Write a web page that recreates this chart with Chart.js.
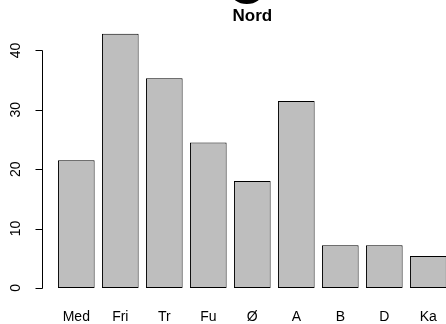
<!DOCTYPE html>
<html lang="no">
<head>
<meta charset="UTF-8">
<title>Nord</title>
<style>
  html, body { margin: 0; padding: 0; background: #fff; overflow: hidden; }
  canvas { display: block; }
</style>
</head>
<body>
<canvas id="chart" width="506" height="324"></canvas>

<script src="https://cdn.jsdelivr.net/npm/chart.js"></script>
<script>
    // data
    const categories = ['Med', 'Fri', 'Tr', 'Fu', 'Ø', 'A', 'B', 'D', 'Ka'];
    const values = [21.5, 42.8, 35.3, 24.5, 18.0, 31.5, 7.2, 7.2, 5.4];
    const yTicks = [0, 10, 20, 30, 40];
    const chartTitle = 'Nord';

    const axisFont = '14px "Liberation Sans", Arial, sans-serif';

    // R-style axis: line only from first to last tick, rotated labels
    const rAxis = {
        id: 'rAxis',
        afterDraw(chart) {
            const ctx = chart.ctx;
            const y = chart.scales.y;
            const area = chart.chartArea;
            const slot = area.width / categories.length;
            const axisX = Math.round(area.left - slot * 0.27) + 0.5;
            const top = y.getPixelForValue(yTicks[yTicks.length - 1]);
            const bottom = y.getPixelForValue(yTicks[0]);

            ctx.save();
            ctx.strokeStyle = '#000';
            ctx.lineWidth = 1;
            ctx.beginPath();
            ctx.moveTo(axisX, Math.round(top) + 0.5);
            ctx.lineTo(axisX, Math.round(bottom) + 0.5);
            yTicks.forEach(v => {
                const py = Math.round(y.getPixelForValue(v)) + 0.5;
                ctx.moveTo(axisX, py);
                ctx.lineTo(axisX - 7, py);
            });
            ctx.stroke();

            ctx.fillStyle = '#000';
            ctx.font = axisFont;
            ctx.textAlign = 'center';
            ctx.textBaseline = 'middle';
            yTicks.forEach(v => {
                const py = y.getPixelForValue(v);
                ctx.save();
                ctx.translate(axisX - 26, py);
                ctx.rotate(-Math.PI / 2);
                ctx.fillText(String(v), 0, 0);
                ctx.restore();
            });

            // title, centred on the plot region
            const cx = (axisX + area.right + slot * 0.27) / 2;
            ctx.font = 'bold 17px "Liberation Sans", Arial, sans-serif';
            ctx.fillText(chartTitle, cx, 16.5);

            // clipped bottom of a large glyph above the title
            ctx.beginPath();
            ctx.ellipse(cx - 5.5, -8, 16, 12, 0, 0, Math.PI * 2);
            ctx.fill();
            ctx.restore();
        }
    };

    new Chart(document.getElementById('chart'), {
        type: 'bar',
        data: {
            labels: categories,
            datasets: [{
                data: values,
                backgroundColor: '#bebebe',
                borderColor: '#000',
                borderWidth: 1,
                borderSkipped: false,
                categoryPercentage: 1,
                barPercentage: 0.8333
            }]
        },
        options: {
            responsive: false,
            animation: false,
            devicePixelRatio: 1,
            layout: {
                padding: { left: 0, right: 55.7, top: 23.5, bottom: 0 }
            },
            plugins: {
                legend: { display: false },
                title: { display: false },
                tooltip: { enabled: false }
            },
            scales: {
                x: {
                    grid: { display: false, drawTicks: false, tickLength: 0 },
                    border: { display: false },
                    ticks: {
                        color: '#000',
                        font: { family: '"Liberation Sans", Arial, sans-serif', size: 14 },
                        padding: 7.7,
                        maxRotation: 0,
                        autoSkip: false
                    },
                    afterFit(scale) { scale.height = 23.2; }
                },
                y: {
                    min: -2.16,
                    max: 44.53,
                    grid: { display: false },
                    border: { display: false },
                    ticks: { display: false },
                    afterFit(scale) { scale.width = 54.3; }
                }
            }
        },
        plugins: [rAxis]
    });
</script>
</body>
</html>
